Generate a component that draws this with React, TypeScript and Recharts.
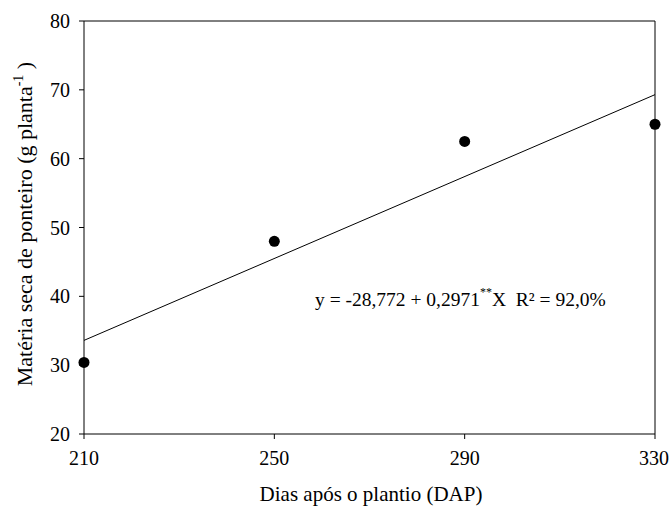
import React from "react";
import {
  ComposedChart,
  Scatter,
  Line,
  XAxis,
  YAxis,
  ReferenceLine,
  Customized,
} from "recharts";

const days = [210, 250, 290, 330];
const drymass = [30.4, 48.0, 62.5, 65.0];
// fitted line y = -28,772 + 0,2971x, read at the ends of the axis
const fitDays = [210, 330];
const fitValues = [33.6, 69.3];
const xTicks = [210, 250, 290, 330];
const yTicks = [20, 30, 40, 50, 60, 70, 80];

const FONT = "Liberation Serif, Times New Roman, serif";

const points = days.map((d, i) => ({ x: d, y: drymass[i] }));
const fit = fitDays.map((d, i) => ({ x: d, fit: fitValues[i] }));

function YLabel() {
  const cx = 32;
  const cy = 224;
  return (
    <text
      x={cx}
      y={cy}
      transform={`rotate(-90, ${cx}, ${cy})`}
      textAnchor="middle"
      style={{ fontFamily: FONT }}
      fontSize={22}
      fill="#000"
    >
      Matéria seca de ponteiro (g planta
      <tspan fontSize={14} dy={-9}>-1</tspan>
      <tspan dy={9}> )</tspan>
    </text>
  );
}

function XLabel() {
  return (
    <text
      x={371}
      y={501}
      textAnchor="middle"
      style={{ fontFamily: FONT }}
      fontSize={21}
      fill="#000"
    >
      Dias após o plantio (DAP)
    </text>
  );
}

function Equation() {
  return (
    <text
      x={315}
      y={306}
      fontSize={19.5}
      fill="#000"
      style={{ whiteSpace: "pre", fontFamily: FONT }}
    >
      y = -28,772 + 0,2971
      <tspan fontSize={12} dy={-10}>**</tspan>
      <tspan dy={10}>{"X  R² = 92,0%"}</tspan>
    </text>
  );
}

export default function App() {
  return (
    <div
      style={{
        position: "absolute",
        left: 0,
        top: 0,
        background: "#fff",
        fontFamily: FONT,
      }}
    >
      <ComposedChart
        width={669}
        height={508}
        margin={{ top: 21, right: 14, left: 0, bottom: 0 }}
        style={{ fontFamily: FONT }}
      >
        <XAxis
          dataKey="x"
          type="number"
          domain={[210, 330]}
          ticks={xTicks}
          allowDuplicatedCategory={false}
          height={74}
          axisLine={{ stroke: "#000" }}
          tickLine={{ stroke: "#000" }}
          tickSize={5}
          tick={{ fill: "#000", fontFamily: FONT, fontSize: 20 }}
          tickMargin={12}
        />
        <YAxis
          type="number"
          domain={[20, 80]}
          ticks={yTicks}
          width={84}
          axisLine={{ stroke: "#000" }}
          tickLine={{ stroke: "#000" }}
          tickSize={5}
          tick={{ fill: "#000", fontFamily: FONT, fontSize: 20 }}
          tickMargin={9}
        />
        <ReferenceLine y={80} stroke="#000" />
        <ReferenceLine x={330} stroke="#000" />
        <Line
          data={fit}
          dataKey="fit"
          stroke="#000"
          strokeWidth={1}
          dot={false}
          isAnimationActive={false}
        />
        <Scatter
          data={points}
          dataKey="y"
          fill="#000"
          shape={(p: any) => <circle cx={p.cx} cy={p.cy} r={5.5} fill="#000" />}
          isAnimationActive={false}
        />
        <Customized component={YLabel} />
        <Customized component={XLabel} />
        <Customized component={Equation} />
      </ComposedChart>
    </div>
  );
}
